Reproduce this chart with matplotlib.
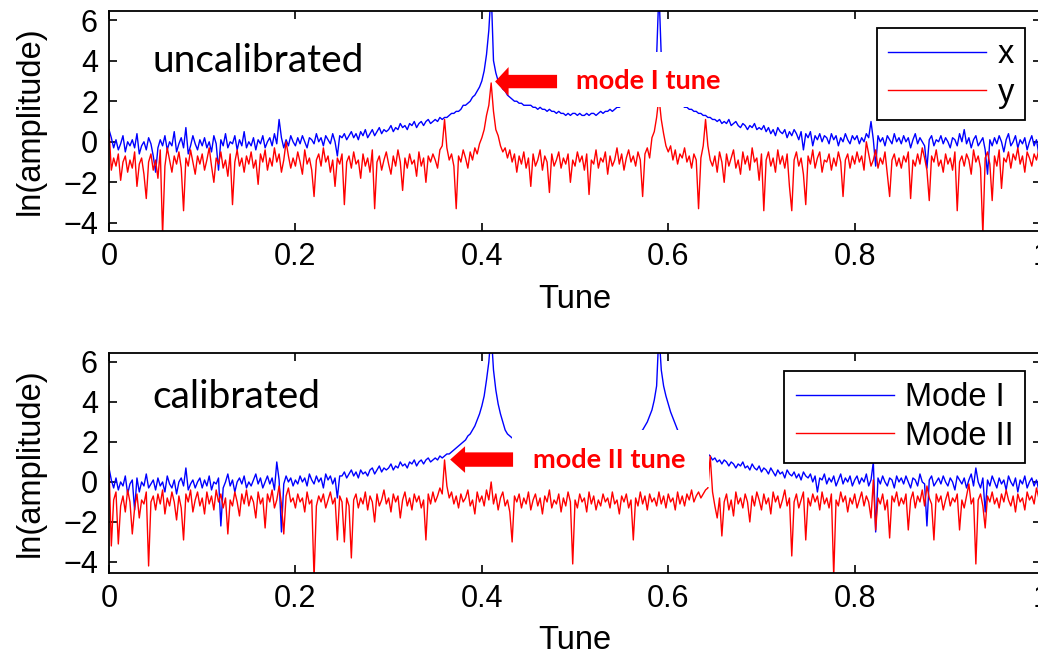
import numpy as np
import matplotlib.pyplot as plt
from matplotlib.patches import Rectangle, FancyArrow

# tune axis, step 0.0025
tune = np.linspace(0, 1, 401)

# uncalibrated, x (blue)
unc_x = [
    0.6, 0.2, -0.3, 0.1, -0.4, -0.1, 0.3, -0.5, 0.0, -0.2, 0.1, -0.3, 0.4, -0.6, -0.2, 0.0, -0.4, 0.2, -0.1, -0.7,
    -1.5, -0.3, 0.1, -0.2, 0.3, -0.4, 0.0, -0.2, 0.5, -0.5, -0.1, 0.2, -0.3, 0.7, -0.6, -0.2, 0.3, -0.1, -0.4, 0.1,
    -0.2, 0.2, -0.3, 0.0, -0.5, 0.3, -0.1, -1.4, 0.1, -0.2, 0.4, -0.3, 0.0, -0.1, 0.3, -0.4, 0.1, -0.2, 0.5, -0.3,
    0.0, -0.2, 0.2, -0.4, 0.1, -0.1, 0.3, -0.3, 0.0, 0.2, -0.2, 0.4, -0.1, 1.1, 0.2, -0.3, 0.1, -0.2, 0.3, 0.0,
    -0.2, 0.2, -0.1, 0.3, 0.0, -0.3, 0.2, 0.1, -0.1, 0.4, 0.0, 0.2, -0.2, 0.3, 0.1, -0.1, 0.4, 0.0, -0.7, 0.3,
    0.2, 0.4, 0.1, 0.3, 0.5, 0.2, 0.4, 0.1, 0.5, 0.3, 0.6, 0.2, 0.4, 0.6, 0.3, 0.5, 0.7, 0.4, 0.6, 0.5,
    0.6, 0.8, 0.5, 0.7, 0.6, 0.9, 0.7, 0.8, 0.6, 0.9, 0.8, 1.0, 0.7, 0.9, 1.0, 0.8, 1.0, 1.1, 0.9, 1.0,
    1.1, 1.0, 1.2, 1.1, 1.2, 1.2, 1.3, 1.4, 1.4, 1.5, 1.5, 1.6, 1.8, 1.8, 1.9, 2.0, 2.2, 2.3, 2.5, 2.7,
    3.0, 3.5, 4.3, 5.5, 7.5, 4.0, 3.4, 3.0, 2.8, 2.6, 2.5, 2.3, 2.2, 2.1, 2.0, 2.0, 1.9, 1.9, 1.8, 1.8,
    1.8, 1.8, 1.7, 1.7, 1.6, 1.7, 1.6, 1.6, 1.5, 1.6, 1.5, 1.5, 1.4, 1.5, 1.4, 1.4, 1.3, 1.4, 1.3, 1.4,
    1.4, 1.3, 1.4, 1.3, 1.3, 1.4, 1.3, 1.4, 1.4, 1.3, 1.4, 1.5, 1.4, 1.5, 1.5, 1.6, 1.5, 1.6, 1.7, 1.7,
    1.8, 1.8, 1.9, 1.9, 2.0, 2.1, 2.2, 2.3, 2.5, 2.7, 3.0, 3.2, 3.4, 3.6, 3.9, 4.2, 7.5, 4.2, 3.6, 3.2,
    2.9, 2.6, 2.4, 2.2, 2.0, 1.9, 1.8, 1.7, 1.7, 1.6, 1.6, 1.5, 1.5, 1.4, 1.4, 1.3, 1.3, 1.2, 1.2, 1.1,
    1.1, 1.0, 1.1, 0.9, 1.0, 0.9, 1.1, 0.8, 0.9, 1.0, 0.8, 0.7, 0.9, 0.8, 0.6, 0.8, 0.7, 0.9, 0.6, 0.7,
    0.6, 0.8, 0.5, 0.7, 0.4, 0.6, 0.3, 0.7, 0.5, 0.4, 0.6, 0.2, 0.5, 0.3, 0.6, 0.4, 0.1, 0.5, -0.4, 0.4,
    0.2, 0.5, -0.2, 0.3, 0.1, 0.4, 0.0, 0.3, 0.2, -0.1, 0.4, 0.1, 0.3, -0.2, 0.2, 0.0, 0.4, 0.1, -0.1, 0.3,
    0.1, 0.3, -0.1, 0.2, 0.0, 0.4, 0.2, 1.0, 0.1, -1.2, 0.3, 0.0, 0.2, -0.2, 0.3, 0.1, -0.1, 0.4, 0.0, 0.2,
    -0.1, 0.3, 0.0, 0.2, -0.3, 0.1, 0.4, -0.1, 0.2, 0.0, -0.2, -1.3, 0.1, 0.3, -0.2, 0.1, 0.0, 0.3, -0.1, 0.2,
    0.0, -0.3, 0.2, 0.1, -0.2, 0.4, 0.0, 0.6, -0.1, 0.2, -0.3, 0.1, 0.3, -0.2, 0.0, 0.2, -0.4, -1.6, 0.1, -0.2,
    0.2, -0.1, 0.3, 0.0, -0.5, 0.1, 0.4, -0.2, 0.0, 0.3, -0.3, 0.1, -0.1, 0.2, -0.4, 0.0, 0.3, -0.2, 0.1, -0.6,
    0.0,
]

# uncalibrated, y (red)
unc_y = [
    0.6, -1.4, -0.8, -1.2, -0.6, -1.9, -1.0, -0.7, -1.5, -0.9, -1.3, -0.5, -2.2, -1.1, -0.8, -1.6, -2.8, -1.0, -0.6, -1.4,
    -0.9, -1.8, -0.4, -4.6, -1.2, -0.3, -0.9, -1.5, -0.7, -1.1, -0.5, -1.3, -3.4, -0.8, -1.2, -0.4, -1.0, -1.6, -0.7, -1.1,
    -0.6, -1.4, -0.9, -0.3, -1.2, -2.0, -0.8, -1.1, -0.5, -1.3, -0.9, -1.7, -0.6, -3.1, -1.0, -0.4, -1.2, -0.8, -1.5, -0.7,
    -1.1, -0.5, -1.3, -0.9, -2.1, -0.6, -1.0, -0.4, -1.4, -0.8, -1.2, -0.3, -1.0, -0.6, -1.5, -0.9, 0.0, -0.7, -1.3, -0.8,
    -1.2, -0.5, -1.0, -1.6, -0.4, -1.1, -0.8, -1.4, -2.7, -0.9, -0.6, -1.2, -0.3, -1.0, -0.7, -1.5, -0.9, -2.2, -0.8, -1.1,
    -0.6, -3.1, -1.0, -0.7, -1.3, -0.5, -1.1, -0.9, -1.8, -0.6, -1.2, -0.8, -1.5, -0.4, -3.3, -1.0, -0.7, -1.4, -0.9, -0.5,
    -1.1, -1.6, -0.7, -1.2, -0.4, -1.0, -2.4, -0.8, -1.3, -0.6, -1.1, -0.9, -1.7, -0.5, -1.2, -0.8, -2.0, -0.7, -1.0, -0.6,
    -0.9, -1.3, -0.4, -0.2, 1.1, -0.3, -0.9, -0.6, -1.2, -3.3, -0.7, -1.0, -0.4, -0.8, -1.3, -0.5, -0.9, -0.3, -0.6, -0.1,
    0.2, 0.6, 1.3, 1.8, 2.9, 1.5, 0.6, 0.3, -0.2, -0.5, -0.3, -0.8, -0.4, -1.0, -0.6, -1.5, -0.7, -1.1, -0.5, -1.3,
    -0.8, -2.2, -0.6, -1.2, -0.9, -0.4, -1.4, -0.7, -1.0, -2.5, -0.6, -1.2, -0.9, -0.5, -1.3, -0.8, -1.1, -0.6, -2.0, -0.9,
    -1.2, -0.5, -1.0, -0.7, -1.4, -0.6, -2.6, -0.9, -1.1, -0.4, -1.3, -0.8, -1.0, -0.5, -1.6, -0.7, -1.2, -0.9, -0.3, -1.1,
    -0.6, -1.4, -0.8, -0.4, -1.0, -0.7, -1.2, -0.5, -0.9, -2.7, -0.6, -0.3, -0.8, 0.2, 0.5, 1.2, 2.2, 1.1, 0.4, -0.2,
    -0.5, -0.2, -0.9, -0.4, -1.1, -0.6, -0.8, -0.3, -1.0, -0.7, -1.3, -0.6, -0.9, -3.3, -0.8, -0.2, 1.1, -0.2, -0.9, -1.2,
    -0.7, -1.5, -0.5, -1.0, -2.0, -0.6, -1.2, -0.8, -0.4, -1.3, -0.9, -1.6, -0.5, -1.1, -0.7, -1.4, -0.3, -1.0, -0.8, -1.9,
    -0.6, -3.4, -0.9, -0.5, -1.2, -0.8, -1.5, -0.4, -1.1, -0.7, -1.3, -0.6, -2.2, -3.4, -0.9, -0.5, -1.2, -0.8, -1.6, -3.1,
    -0.7, -1.1, -0.4, -1.3, -0.8, -0.5, -1.5, -0.9, -1.0, -0.6, -1.4, -0.8, -1.2, -0.5, -1.0, -2.7, -0.9, -0.6, -1.3, -0.7,
    -1.1, -0.5, -1.0, -0.7, -1.4, 0.0, -0.6, -1.2, -0.9, -0.4, -1.3, -0.8, -1.1, -0.5, -1.6, -2.7, -0.9, -0.6, -1.2, -0.8,
    -1.3, -0.7, -1.0, -0.5, -2.8, -0.9, -1.2, -0.6, -1.1, -0.3, -0.8, -1.4, -2.9, -0.7, -1.0, -0.4, -1.2, -0.9, -1.5, -0.6,
    -1.1, -0.8, -1.4, -0.5, -3.4, -1.0, -0.7, -1.2, -0.6, -0.9, -1.6, -0.4, -1.0, -0.7, -1.3, -4.6, -0.8, -0.5, -1.1, -2.9,
    -0.7, -1.2, -0.4, -2.3, -0.8, -1.0, -0.5, -1.3, -0.6, -0.9, -0.3, -1.1, -0.7, -1.5, -0.5, -0.8, -1.2, -0.6, -0.9, -0.4,
    -0.8,
]

# calibrated, Mode I (blue)
cal_1 = [
    0.7, 0.1, -0.3, 0.2, -0.4, 0.0, -0.2, 0.3, -0.6, -0.1, 0.1, -1.4, 0.2, -0.5, 0.0, -0.2, 0.4, -0.3, -0.1, 0.1,
    -0.4, 0.2, -0.2, 0.0, -0.5, 0.3, -0.1, -0.3, 0.1, -0.6, 0.0, 0.2, -0.2, 0.7, -0.4, -0.1, 0.1, -0.3, 0.0, 0.2,
    -0.3, 0.1, -0.2, 0.3, -0.4, 0.0, -0.1, 0.2, -2.2, -0.3, 0.0, 0.4, -0.2, 0.1, -0.5, 0.0, 0.2, -0.1, 0.3, -0.3,
    0.0, -0.2, 0.1, 0.4, -0.1, 0.2, -0.3, 0.0, 0.3, -0.1, 0.2, -0.4, 1.0, 0.1, -2.5, -0.1, 0.3, 0.0, 0.2, -0.2,
    0.1, -0.1, 0.3, 0.0, 0.2, -0.2, 0.4, 0.1, -0.1, 0.3, 0.0, 0.2, -0.3, 0.4, 0.1, 0.3, -0.1, 0.2, -0.8, 0.3,
    0.3, 0.5, 0.2, 0.4, 0.6, 0.3, 0.5, 0.2, 0.6, 0.4, 0.5, 0.3, 0.6, 0.7, 0.4, 0.6, 0.8, 0.5, 0.7, 0.6,
    0.7, 0.9, 0.6, 0.8, 0.7, 1.0, 0.8, 0.9, 0.7, 1.0, 0.9, 1.1, 0.8, 1.0, 1.1, 0.9, 1.1, 1.2, 1.0, 1.1,
    1.2, 1.1, 1.3, 1.2, 1.3, 1.4, 1.4, 1.5, 1.6, 1.7, 1.8, 1.9, 2.0, 2.1, 2.3, 2.4, 2.6, 2.8, 3.1, 3.4,
    3.8, 4.3, 5.1, 6.0, 7.5, 5.6, 4.6, 3.9, 3.4, 3.0, 2.6, 2.4, 2.3, 2.2, 2.1, 2.1, 2.0, 2.0, 1.9, 1.9,
    1.9, 1.8, 1.8, 1.7, 1.7, 1.7, 1.6, 1.6, 1.6, 1.6, 1.5, 1.5, 1.5, 1.5, 1.5, 1.5, 1.4, 1.4, 1.4, 1.4,
    1.4, 1.4, 1.4, 1.4, 1.5, 1.5, 1.5, 1.5, 1.5, 1.5, 1.6, 1.6, 1.6, 1.6, 1.7, 1.7, 1.7, 1.8, 1.8, 1.9,
    1.9, 2.0, 2.0, 2.1, 2.1, 2.2, 2.3, 2.4, 2.5, 2.6, 2.8, 3.0, 3.3, 3.6, 4.1, 4.8, 7.5, 5.6, 4.8, 4.3,
    3.9, 3.5, 3.2, 2.9, 2.6, 2.4, 2.2, 2.1, 2.0, 1.9, 1.8, 1.7, 1.7, 1.6, 1.6, 1.5, 1.5, 1.4, 1.3, 1.1,
    1.2, 1.0, 1.1, 0.9, 1.1, 1.0, 0.8, 1.0, 0.9, 0.7, 0.9, 0.8, 1.0, 0.7, 0.8, 0.6, 0.9, 0.7, 0.6, 0.8,
    0.5, 0.7, 0.6, 0.4, 0.7, 0.5, 0.3, 0.6, 0.4, 0.5, 0.2, 0.6, 0.4, 0.3, 0.5, 0.2, 0.4, 0.1, 0.5, 0.3,
    0.2, 0.4, 0.0, 0.3, -0.5, 0.2, 0.1, 0.4, -0.1, 0.2, 0.0, 0.3, -0.2, 0.1, 0.4, -0.1, 0.2, 0.0, 0.3, -0.2,
    0.1, 0.3, -0.1, 0.2, 0.0, 0.4, -0.2, 0.1, 1.0, -2.5, 0.2, -0.1, 0.3, 0.0, -0.2, 0.2, 0.1, -0.3, 0.3, 0.0,
    0.2, -0.1, 0.3, 0.0, -0.3, 0.2, 0.1, -0.2, 0.4, 0.0, -0.1, -2.2, 0.1, 0.3, -0.2, 0.0, 0.2, -0.1, 0.3, 0.0,
    -0.2, 0.2, 0.0, -0.4, 0.3, 0.1, -0.1, 0.2, -0.3, 0.1, 0.4, -0.2, 0.7, 0.0, -0.3, 0.2, -1.5, 0.1, -0.2, 0.3,
    0.0, -0.3, 0.2, -0.1, 0.1, -0.4, 0.3, 0.0, -0.2, 0.2, -0.5, 0.1, -0.1, 0.3, -0.3, 0.0, 0.2, -0.2, 0.1, -0.4,
    0.0,
]

# calibrated, Mode II (red)
cal_2 = [
    0.8, -3.2, -0.9, -0.5, -3.1, -1.2, -0.7, -1.5, -0.4, -1.0, -2.6, -1.3, -0.6, -1.8, -0.9, -1.1, -0.5, -4.2, -1.0, -0.7,
    -1.4, -0.6, -1.1, -0.4, -1.6, -0.8, -1.2, -0.5, -1.0, -1.9, -0.7, -1.3, -2.9, -0.6, -1.0, -0.4, -1.5, -0.9, -0.5, -1.2,
    -0.8, -1.6, -0.5, -1.1, -0.7, -1.4, -0.4, -1.0, -0.6, -1.3, -0.8, -2.6, -0.9, -1.2, -0.5, -1.0, -1.7, -0.6, -1.1, -0.4,
    -1.2, -0.7, -1.0, -1.8, -0.5, -1.1, -0.8, -2.3, -0.6, -1.0, -0.4, -1.3, -0.9, -0.2, -1.1, -2.6, -0.7, -0.3, -1.0, -0.8,
    -1.3, -0.6, -1.0, -0.8, -1.5, -0.5, -1.1, -0.9, -4.8, -1.2, -0.7, -1.0, -0.6, -1.3, -0.9, -0.5, -1.1, -0.8, -2.9, -0.7,
    -1.0, -3.0, -0.8, -1.2, -3.8, -0.9, -0.6, -1.3, -0.8, -1.1, -0.5, -1.4, -0.7, -1.0, -2.0, -0.6, -1.2, -0.9, -0.4, -1.1,
    -0.8, -1.5, -0.6, -1.0, -0.7, -1.8, -0.9, -0.5, -1.2, -0.8, -1.4, -0.6, -1.0, -0.7, -1.3, -0.9, -2.9, -0.6, -1.1, -0.5,
    -1.0, -0.7, -0.3, -0.6, 1.1, -0.2, -0.8, -0.5, -1.1, -0.7, -1.3, -0.6, -1.0, -0.8, -0.4, -1.2, -0.9, -1.6, -0.5, -1.0,
    -0.7, -1.2, -0.4, -0.9, 0.0, -1.1, -0.6, -1.4, -0.8, -0.5, -1.2, -0.9, -1.5, -3.0, -0.7, -1.0, -0.6, -1.3, -0.8, -1.1,
    -0.5, -1.4, -0.9, -0.6, -1.2, -0.8, -1.6, -0.7, -1.0, -0.4, -1.3, -0.9, -1.1, -0.6, -1.5, -0.8, -1.2, -0.5, -1.0, -4.1,
    -0.9, -1.3, -0.6, -1.0, -0.8, -1.5, -0.5, -1.1, -0.7, -1.4, -0.9, -1.2, -0.6, -1.0, -0.8, -1.3, -0.5, -1.1, -0.9, -1.6,
    -0.7, -1.0, -0.6, -1.3, -0.9, -2.9, -0.8, -1.2, -0.5, -1.1, -0.7, -1.4, -0.6, -1.0, -0.8, -1.2, -0.5, -1.1, -0.7, -1.3,
    -0.6, -1.0, -0.8, -1.4, -0.5, -1.1, -0.7, -1.2, -0.6, -0.9, -0.4, -1.0, -0.7, -0.5, -0.8, -0.6, -0.4, -0.3, 1.3, -0.5,
    -1.2, -1.8, -0.8, -2.7, -1.0, -0.6, -1.4, -0.9, -1.7, -0.5, -1.1, -0.8, -1.3, -0.6, -1.0, -2.0, -0.7, -1.2, -0.5, -0.9,
    -1.4, -0.6, -1.1, -0.8, -1.6, -0.5, -1.0, -0.7, -1.3, -0.9, -0.4, -1.2, -0.8, -3.7, -1.0, -0.6, -1.3, -0.9, -0.5, -2.9,
    -0.8, -1.2, -0.6, -1.0, -0.7, -1.4, -0.5, -1.1, -0.8, -1.3, -0.6, -4.7, -0.9, -1.2, -0.5, -1.0, -0.7, -1.5, -0.8, -1.1,
    -0.6, -1.3, -0.9, -0.5, -1.2, -0.7, -1.0, -1.8, 0.1, -2.4, -0.8, -1.1, -0.6, -1.4, -0.9, -2.8, -0.7, -1.0, -0.5, -1.2,
    -0.8, -1.1, -0.6, -2.4, -0.9, -0.5, -1.3, -0.7, -1.0, -0.4, -1.2, -0.2, -0.8, -1.1, -2.9, -0.6, -1.0, -0.7, -1.4, -0.9,
    -0.5, -1.2, -0.8, -1.0, -0.6, -2.4, -0.9, -1.3, -0.7, -0.1, -1.1, -0.8, -4.1, -0.9, -0.6, -1.2, -2.3, -0.7, -1.0, -0.5,
    -1.1, -0.8, -1.3, -0.6, -1.0, -0.4, -0.9, -1.2, -0.7, -1.5, -0.6, -1.0, -0.8, -1.4, -0.5, -0.9, -0.7, -1.1, -0.3, -0.8,
    -0.9,
]

xtick_vals = [0, 0.2, 0.4, 0.6, 0.8, 1.0]
xtick_labels = ['0', '0.2', '0.4', '0.6', '0.8', '1']
ytick_vals = [-4, -2, 0, 2, 4, 6]

plt.rcParams['font.family'] = ['Liberation Sans', 'DejaVu Sans']

fig = plt.figure(figsize=(10.38, 6.54), dpi=100)
ax1 = fig.add_axes([0.105, 0.6468, 0.898, 0.3364])
ax2 = fig.add_axes([0.105, 0.1239, 0.898, 0.3364])


def style(ax, ylo):
    ax.set_xlim(0, 1)
    ax.set_ylim(ylo, 6.45)
    ax.set_xticks(xtick_vals)
    ax.set_xticklabels(xtick_labels)
    ax.set_yticks(ytick_vals)
    ax.tick_params(direction='in', top=True, right=True, length=6, width=1.2,
                   labelsize=22, pad=8)
    for s in ax.spines.values():
        s.set_linewidth(1.3)


def add_legend(ax, top):
    leg = ax.legend(loc='upper right', bbox_to_anchor=(0.983, top), borderaxespad=0,
                    fancybox=False, edgecolor='black', framealpha=1, fontsize=23.5,
                    handlelength=3.0, handletextpad=0.35, labelspacing=0.22,
                    borderpad=0.35)
    leg.get_frame().set_linewidth(1.3)


# top: uncalibrated
ax1.plot(tune, unc_x, color='blue', lw=1.0, label='x', zorder=2)
ax1.plot(tune, unc_y, color='red', lw=1.0, label='y', zorder=2)
style(ax1, -4.4)
ax1.add_patch(Rectangle((0.483, 1.71), 0.192, 2.71, fc='white', ec='none', zorder=3))
ax1.add_patch(FancyArrow(0.4807, 2.97, 0.4142 - 0.4807, 0, width=0.66, head_width=1.43,
                         head_length=0.0145, length_includes_head=True,
                         fc='red', ec='none', zorder=4))
ax1.text(0.501, 2.6, 'mode I tune', color='red', fontsize=19.5, fontweight='bold',
         family=['Lato', 'DejaVu Sans'], ha='left', va='baseline', zorder=5)
ax1.text(0.047, 3.45, 'uncalibrated', fontsize=28, family=['Lato', 'DejaVu Sans'],
         ha='left', va='baseline', zorder=5)
add_legend(ax1, 0.923)

# bottom: calibrated
ax2.plot(tune, cal_1, color='blue', lw=1.0, label='Mode I', zorder=2)
ax2.plot(tune, cal_2, color='red', lw=1.0, label='Mode II', zorder=2)
style(ax2, -4.55)
ax2.add_patch(Rectangle((0.4325, -0.25), 0.211, 2.85, fc='white', ec='none', zorder=3))
ax2.add_patch(FancyArrow(0.4335, 1.12, 0.366 - 0.4335, 0, width=0.72, head_width=1.33,
                         head_length=0.016, length_includes_head=True,
                         fc='red', ec='none', zorder=4))
ax2.text(0.455, 0.685, 'mode II tune', color='red', fontsize=19.5, fontweight='bold',
         family=['Lato', 'DejaVu Sans'], ha='left', va='baseline', zorder=5)
ax2.text(0.047, 3.68, 'calibrated', fontsize=28, family=['Lato', 'DejaVu Sans'],
         ha='left', va='baseline', zorder=5)
add_legend(ax2, 0.918)

# axis labels
for yc, xc in [(0.815, 0.5413), (0.292, 0.0199)]:
    fig.text(0.029, yc, 'ln(amplitude)', rotation=90, ha='center', va='center', fontsize=23.5)
    fig.text(0.554, xc, 'Tune', ha='center', va='center', fontsize=23.5)

fig.savefig('out.png', dpi=100)
